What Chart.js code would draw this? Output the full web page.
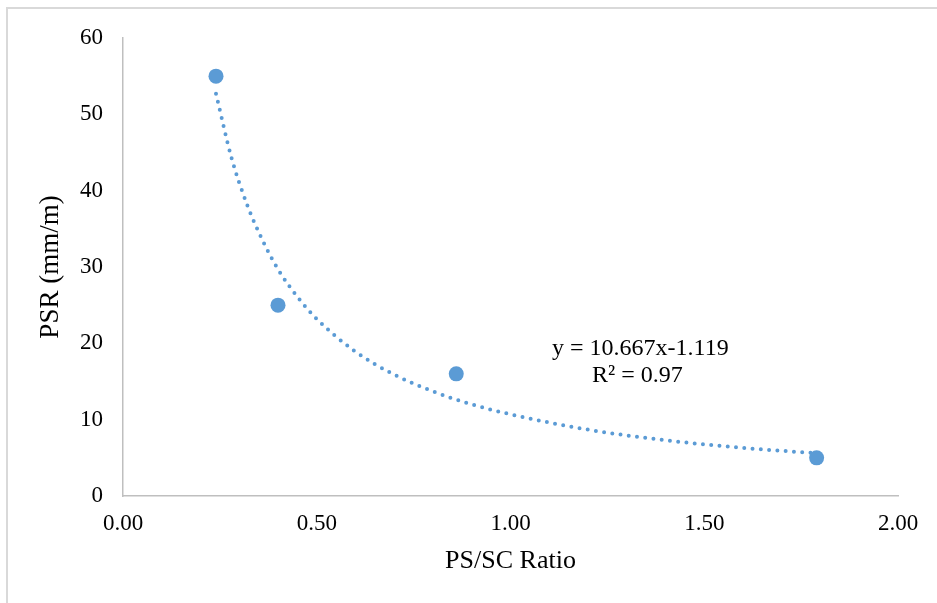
<!DOCTYPE html>
<html>
<head>
<meta charset="utf-8">
<title>PSR vs PS/SC Ratio</title>
<script src="https://cdn.jsdelivr.net/npm/chart.js@4.4.1/dist/chart.umd.min.js"></script>
<style>
    html, body { margin: 0; padding: 0; background: #fff; }
    #psrChart { display: block; }
</style>
</head>
<body>
<canvas id="psrChart" width="937" height="603"></canvas>
<script>
// measured points
const ratioValues = [0.24, 0.40, 0.86, 1.79];
const psrValues = [55, 25, 16, 5];

// dotted power trendline
const trendRatio = [0.24, 0.28, 0.32, 0.36, 0.40, 0.45, 0.50, 0.60, 0.70, 0.80, 0.90, 1.00, 1.20, 1.40, 1.60, 1.79];
const trendPsr = [52.7, 44.3, 38.2, 33.5, 29.7, 26.1, 23.2, 18.9, 15.9, 13.7, 12.0, 10.7, 8.7, 7.3, 6.3, 5.6];

const xTicks = [0, 0.5, 1, 1.5, 2];
const yTicks = [0, 10, 20, 30, 40, 50, 60];
const equationLines = ['y = 10.667x-1.119', 'R² = 0.97'];

const serif = '"Liberation Serif", "Times New Roman", serif';
const blue = '#5b9bd5';

const frameAndLabel = {
    id: 'frameAndLabel',
    beforeDraw(chart) {
        const ctx = chart.ctx;
        ctx.save();
        ctx.fillStyle = '#fff';
        ctx.fillRect(0, 0, chart.width, chart.height);
        ctx.strokeStyle = '#d9d9d9';
        ctx.lineWidth = 2;
        ctx.strokeRect(7, 8, chart.width + 20, chart.height + 20);
        ctx.restore();
    },
    afterDraw(chart) {
        const ctx = chart.ctx;
        const x = chart.scales.x.getPixelForValue(1.335);
        const y = chart.scales.y.getPixelForValue(19.3);
        ctx.save();
        ctx.fillStyle = '#000';
        ctx.font = '24px ' + serif;
        ctx.textAlign = 'center';
        ctx.textBaseline = 'middle';
        ctx.fillText(equationLines[0], x, y);
        ctx.fillText(equationLines[1], x - 3, y + 27);
        ctx.restore();
    }
};

new Chart(document.getElementById('psrChart').getContext('2d'), {
    type: 'scatter',
    data: {
        datasets: [
            {
                label: 'PSR',
                data: ratioValues.map((r, i) => ({ x: r, y: psrValues[i] })),
                backgroundColor: blue,
                borderWidth: 0,
                pointRadius: 7.5,
                pointHoverRadius: 7.5
            },
            {
                label: 'Power trend',
                data: trendRatio.map((r, i) => ({ x: r, y: trendPsr[i] })),
                showLine: true,
                borderColor: blue,
                borderWidth: 4,
                borderDash: [0, 8.3],
                borderCapStyle: 'round',
                cubicInterpolationMode: 'monotone',
                pointRadius: 0,
                pointHoverRadius: 0,
                fill: false
            }
        ]
    },
    options: {
        responsive: false,
        animation: false,
        layout: { padding: { left: 0, top: 38, right: 39, bottom: 0 } },
        plugins: {
            legend: { display: false },
            tooltip: { enabled: false }
        },
        scales: {
            x: {
                type: 'linear',
                min: 0,
                max: 2,
                afterBuildTicks: (scale) => { scale.ticks = xTicks.map(v => ({ value: v })); },
                afterFit: (scale) => { scale.height = 107; },
                grid: { display: false, drawTicks: false },
                border: { color: '#bfbfbf', width: 1.5 },
                ticks: {
                    padding: 14,
                    color: '#000',
                    font: { family: serif, size: 23 },
                    callback: (v) => Number(v).toFixed(2)
                },
                title: {
                    display: true,
                    text: 'PS/SC Ratio',
                    color: '#000',
                    font: { family: serif, size: 26 },
                    padding: { top: 0, bottom: 26 }
                }
            },
            y: {
                min: 0,
                max: 60,
                afterBuildTicks: (scale) => { scale.ticks = yTicks.map(v => ({ value: v })); },
                afterFit: (scale) => { scale.width = 123; },
                grid: { display: false, drawTicks: false },
                border: { color: '#bfbfbf', width: 1.5 },
                ticks: {
                    padding: 20,
                    color: '#000',
                    font: { family: serif, size: 23 }
                },
                title: {
                    display: true,
                    text: 'PSR (mm/m)',
                    color: '#000',
                    font: { family: serif, size: 27 },
                    padding: { top: 35, bottom: 0 }
                }
            }
        }
    },
    plugins: [frameAndLabel]
});
</script>
</body>
</html>
